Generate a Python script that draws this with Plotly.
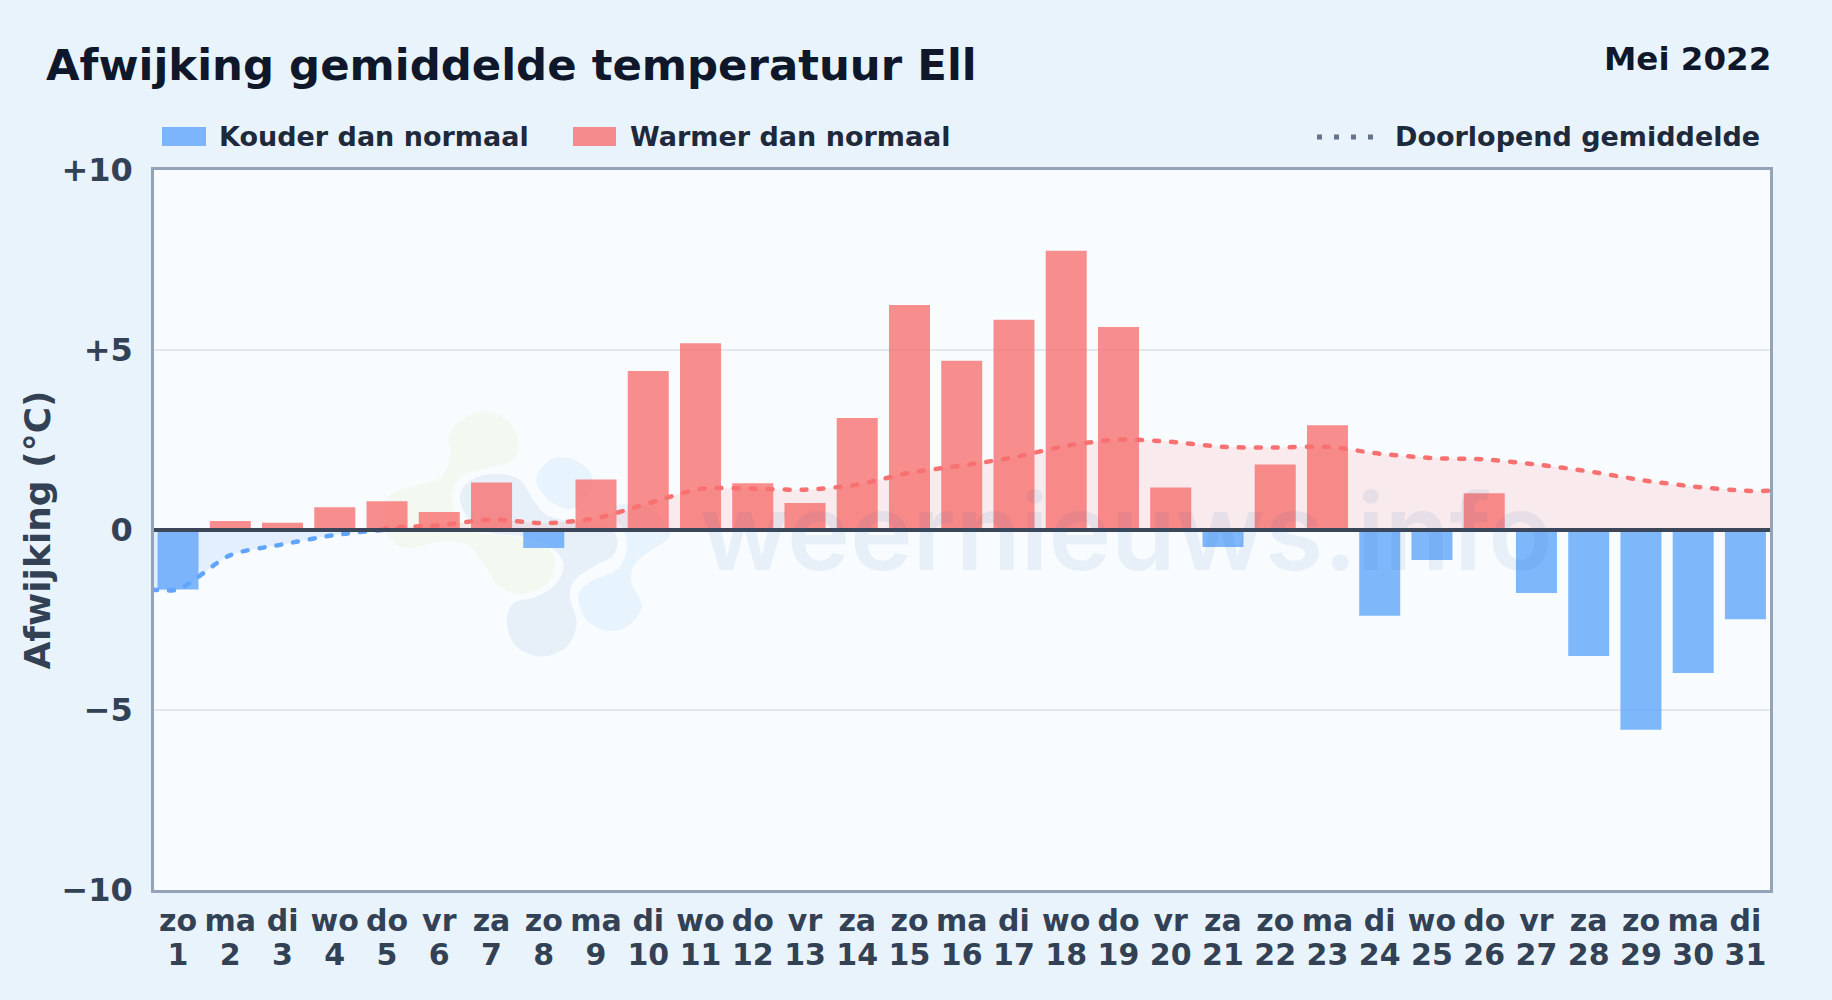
import plotly.graph_objects as go

# ---------- data ----------
weekdays = ["zo","ma","di","wo","do","vr","za","zo","ma","di","wo","do","vr","za","zo","ma",
            "di","wo","do","vr","za","zo","ma","di","wo","do","vr","za","zo","ma","di"]
days = list(range(1, 32))
deviation = [-1.65,0.25,0.2,0.63,0.8,0.5,1.32,-0.5,1.4,4.42,5.19,1.3,0.75,3.11,6.25,4.7,
             5.84,7.76,5.64,1.18,-0.47,1.82,2.91,-2.38,-0.83,1.02,-1.75,-3.5,-5.55,-3.97,-2.48]
mean_cold_days = [0.5,1,2,3,4,4.9]
mean_cold = [-1.65,-1.65,-0.7,-0.4,-0.14,0]
mean_warm_days = [4.9,5,6,7,8,9,10,11,12,13,14,15,16,17,18,19,20,21,22,23,24,25,26,27,28,29,30,31,31.5]
mean_warm = [0,0.05,0.13,0.29,0.19,0.33,0.74,1.14,1.15,1.12,1.26,1.59,1.79,2.02,2.34,2.51,2.45,
             2.31,2.29,2.31,2.12,2.0,1.96,1.82,1.63,1.39,1.21,1.09,1.09]
y_ticks = [-10,-5,0,5,10]
y_tick_labels = ["−10","−5","0","+5","+10"]

cold_days = [d for d, v in zip(days, deviation) if v < 0]
cold_vals = [v for v in deviation if v < 0]
warm_days = [d for d, v in zip(days, deviation) if v >= 0]
warm_vals = [v for v in deviation if v >= 0]

# ---------- geometry helpers (page pixels -> plot fractions) ----------
L, R, T, B = 154, 1770, 170, 890
fx = lambda px: (px - L) / (R - L)
fy = lambda py: (B - py) / (B - T)

def blob(points, fill):
    """Closed smooth outline for the faint logo behind the chart (zoom-crop coordinates)."""
    pts = [(fx(360 + x / 3), fy(390 + y / 3)) for x, y in points]
    n = len(pts)
    d = f"M{pts[0][0]:.5f},{pts[0][1]:.5f}"
    for i in range(n):
        p0, p1, p2, p3 = pts[i - 1], pts[i], pts[(i + 1) % n], pts[(i + 2) % n]
        c1 = (p1[0] + (p2[0] - p0[0]) / 6, p1[1] + (p2[1] - p0[1]) / 6)
        c2 = (p2[0] - (p3[0] - p1[0]) / 6, p2[1] - (p3[1] - p1[1]) / 6)
        d += f" C{c1[0]:.5f},{c1[1]:.5f} {c2[0]:.5f},{c2[1]:.5f} {p2[0]:.5f},{p2[1]:.5f}"
    return dict(type="path", xref="paper", yref="paper", path=d + " Z", fillcolor=fill,
                line=dict(width=0), layer="below")

logo_green = [(270,130),(330,75),(400,70),(460,110),(475,170),(450,215),(380,235),(310,255),(275,310),
              (290,375),(340,425),(420,435),(500,450),(570,480),(585,530),(550,590),(470,612),(410,580),
              (370,520),(320,465),(240,455),(140,475),(90,445),(70,390),(85,320),(170,285),(240,265),(270,200)]
logo_grey = [(305,300),(350,262),(420,252),(480,270),(520,330),(560,375),(640,395),(720,400),(770,440),
             (760,495),(700,530),(645,570),(630,620),(650,700),(620,770),(545,800),(470,770),(440,700),
             (460,640),(530,620),(590,580),(610,520),(570,470),(490,440),(400,430),(340,400),(305,350)]
logo_blue1 = [(530,260),(570,210),(630,205),(685,240),(695,290),(640,355),(580,340),(540,300)]
logo_blue2 = [(775,345),(860,350),(920,400),(925,445),(860,490),(820,530),(815,580),(845,650),(800,710),
              (740,722),(680,690),(655,620),(690,575),(770,540),(800,480),(790,420),(760,375)]

FONT = "DejaVu Sans"
BLUE, RED = "#60A5FA", "#F87171"
BLUE_BAR, RED_BAR = "rgba(96,165,250,0.8)", "rgba(248,113,113,0.8)"

fig = go.Figure()
fig.add_bar(x=cold_days, y=cold_vals, name="Kouder dan normaal", marker=dict(color=BLUE_BAR, line_width=0))
fig.add_bar(x=warm_days, y=warm_vals, name="Warmer dan normaal", marker=dict(color=RED_BAR, line_width=0))
fig.add_scatter(x=mean_cold_days, y=mean_cold, mode="lines", name="Doorlopend gemiddelde",
                line=dict(color=BLUE, width=4.5, dash="5px,12px", shape="spline", smoothing=0.8),
                fill="tozeroy", fillcolor="rgba(96,165,250,0.14)")
fig.add_scatter(x=mean_warm_days, y=mean_warm, mode="lines", name="Doorlopend gemiddelde",
                line=dict(color=RED, width=4.5, dash="5px,12px", shape="spline", smoothing=0.8),
                fill="tozeroy", fillcolor="rgba(248,113,113,0.13)")

shapes = [blob(logo_green, "rgba(215,235,165,0.16)"), blob(logo_grey, "#E7EFF8"),
          blob(logo_blue1, "#E7F3FD"), blob(logo_blue2, "#E7F3FD"),
          dict(type="line", xref="paper", yref="y", x0=0, x1=1, y0=0, y1=0,
               line=dict(color="#3B4759", width=4), layer="above"),
          dict(type="rect", xref="paper", yref="paper", x0=fx(162), x1=fx(206), y0=fy(146), y1=fy(127),
               fillcolor=BLUE_BAR, line_width=0),
          dict(type="rect", xref="paper", yref="paper", x0=fx(573), x1=fx(616), y0=fy(146), y1=fy(127),
               fillcolor=RED_BAR, line_width=0),
          dict(type="line", xref="paper", yref="paper", x0=fx(1317), x1=fx(1373), y0=fy(137), y1=fy(137),
               line=dict(color="#64748B", width=5, dash="5px,12px"))]

def label(text, px, py, size, color, anchor="left"):
    return dict(text=f"<b>{text}</b>", xref="paper", yref="paper", x=fx(px), y=fy(py), xanchor=anchor,
                yanchor="middle", showarrow=False, font=dict(family=FONT, size=size, color=color))

annotations = [
    label("Mei 2022", 1773, 59, 32.5, "#0F172A", "right"),
    label("Kouder dan normaal", 217, 137, 27, "#1E293B"),
    label("Warmer dan normaal", 628, 137, 27, "#1E293B"),
    label("Doorlopend gemiddelde", 1393, 137, 27, "#1E293B"),
    dict(text="weernieuws.info", xref="paper", yref="paper", x=fx(1126), y=fy(531), xanchor="center",
         yanchor="middle", showarrow=False,
         font=dict(family="Inter", size=106, weight=600, color="rgba(30,90,160,0.075)")),
]

fig.update_layout(
    width=1832, height=1000, barmode="overlay", bargap=0.215, showlegend=False,
    margin=dict(l=L, r=1832 - R, t=T, b=1000 - B),
    paper_bgcolor="#E9F3FC", plot_bgcolor="#F8FCFF",
    title=dict(text="<b>Afwijking gemiddelde temperatuur Ell</b>", x=46 / 1832, xanchor="left",
               y=1 - 65 / 1000, yanchor="middle", font=dict(family=FONT, size=43.4, color="#0F172A")),
    xaxis=dict(range=[0.54, 31.47], tickmode="array", tickvals=days,
               ticktext=[f'<b><span style="font-size:30px">{w}</span><br><span style="font-size:30px">{d}</span></b>'
                         for w, d in zip(weekdays, days)],
               tickfont=dict(family=FONT, size=26.5, color="#334155"), showgrid=False, zeroline=False,
               showline=True, mirror=True, linecolor="#94A3B8", linewidth=2.5, ticks="", tickangle=0,
               ticklabelstandoff=6),
    yaxis=dict(range=[-10, 10], tickmode="array", tickvals=y_ticks,
               ticktext=[f"<b>{t}</b>" for t in y_tick_labels],
               tickfont=dict(family=FONT, size=32, color="#334155"), gridcolor="#E2E8F0", gridwidth=1.5,
               zeroline=False, showline=True, mirror=True, linecolor="#94A3B8", linewidth=2.5, ticks="",
               ticklabelstandoff=12, automargin=True,
               title=dict(text="<b>Afwijking (°C)</b>", standoff=0,
                          font=dict(family=FONT, size=36, color="#334155"))),
    shapes=shapes, annotations=annotations,
)

post = """document.body.style.margin='0';
var s=document.createElement('style');
s.textContent='.scatterlayer .js-line{stroke-linecap:round !important}';
document.head.appendChild(s);"""
fig.write_html("out.html", post_script=post, config=dict(displayModeBar=False))
